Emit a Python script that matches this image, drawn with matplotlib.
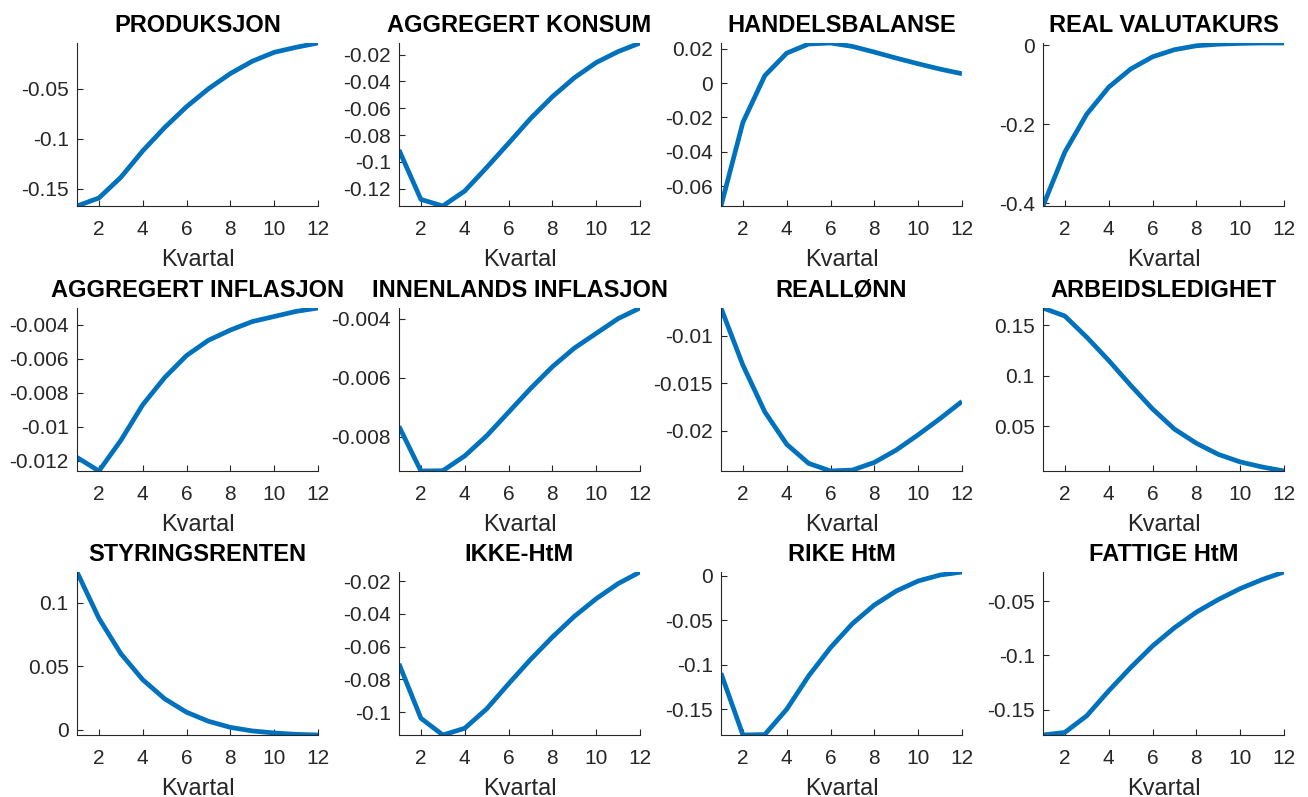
import matplotlib
matplotlib.use("Agg")
import matplotlib.pyplot as plt
from matplotlib.ticker import FuncFormatter

plt.rcParams["font.family"] = ["Liberation Sans", "DejaVu Sans"]
plt.rcParams["axes.unicode_minus"] = False

# ── data: impulse responses, quarters 1..12 ──
kvartal = list(range(1, 13))

titles = ["PRODUKSJON", "AGGREGERT KONSUM", "HANDELSBALANSE", "REAL VALUTAKURS",
          "AGGREGERT INFLASJON", "INNENLANDS INFLASJON", "REALLØNN", "ARBEIDSLEDIGHET",
          "STYRINGSRENTEN", "IKKE-HtM", "RIKE HtM", "FATTIGE HtM"]

produksjon = [-0.167, -0.159, -0.1384, -0.112, -0.0887, -0.0679, -0.050, -0.0348, -0.0225, -0.0136, -0.0086, -0.0043]
konsum = [-0.0911, -0.128, -0.1329, -0.1217, -0.1042, -0.0861, -0.0677, -0.0514, -0.0373, -0.0259, -0.0177, -0.0113]
handelsbalanse = [-0.0716, -0.0229, 0.0043, 0.0174, 0.0227, 0.0233, 0.0213, 0.018, 0.0145, 0.0112, 0.0081, 0.0054]
valutakurs = [-0.407, -0.27, -0.174, -0.106, -0.060, -0.029, -0.011, -0.001, 0.003, 0.005, 0.006, 0.006]
agg_infl = [-0.0118, -0.0126, -0.0108, -0.0087, -0.0071, -0.0058, -0.0049, -0.0043, -0.0038, -0.0035, -0.0032, -0.0030]
innl_infl = [-0.00765, -0.00916, -0.00915, -0.00865, -0.00797, -0.00717, -0.00637, -0.00563, -0.0050, -0.0045, -0.0040, -0.00364]
realloenn = [-0.0071, -0.0131, -0.0180, -0.0214, -0.0234, -0.0242, -0.0241, -0.0233, -0.0220, -0.0204, -0.0187, -0.0169]
arbeidsledighet = [0.167, 0.159, 0.138, 0.115, 0.0904, 0.067, 0.047, 0.033, 0.022, 0.0145, 0.0095, 0.0055]
styringsrenten = [0.124, 0.0876, 0.0598, 0.0393, 0.0243, 0.0137, 0.0066, 0.0018, -0.001, -0.0026, -0.0037, -0.0042]
ikke_htm = [-0.0705, -0.1037, -0.1139, -0.1098, -0.098, -0.0827, -0.0679, -0.0542, -0.0416, -0.0308, -0.0216, -0.0145]
rike_htm = [-0.1095, -0.179, -0.1785, -0.150, -0.1125, -0.0806, -0.0536, -0.0326, -0.0169, -0.0056, 0.0011, 0.0045]
fattige_htm = [-0.1733, -0.1709, -0.1555, -0.1326, -0.1112, -0.0913, -0.0745, -0.0601, -0.0485, -0.0384, -0.0301, -0.0231]

series = [produksjon, konsum, handelsbalanse, valutakurs,
          agg_infl, innl_infl, realloenn, arbeidsledighet,
          styringsrenten, ikke_htm, rike_htm, fattige_htm]

yticks = [[-0.15, -0.1, -0.05],
          [-0.12, -0.1, -0.08, -0.06, -0.04, -0.02],
          [-0.06, -0.04, -0.02, 0, 0.02],
          [-0.4, -0.2, 0],
          [-0.012, -0.01, -0.008, -0.006, -0.004],
          [-0.008, -0.006, -0.004],
          [-0.02, -0.015, -0.01],
          [0.05, 0.1, 0.15],
          [0, 0.05, 0.1],
          [-0.1, -0.08, -0.06, -0.04, -0.02],
          [-0.15, -0.1, -0.05, 0],
          [-0.15, -0.1, -0.05]]
xticks = [2, 4, 6, 8, 10, 12]

# ── layout (pixel geometry of the MATLAB-style 3x4 grid) ──
W, H = 1308, 797
LEFTS = [77, 399, 721, 1043]
TOPS = [43, 308, 572]
AW, AH = 241, 163
LINE = "#0072BD"
AX_C = "#262626"

fig = plt.figure(figsize=(W / 100, H / 100), dpi=100)
fmt = FuncFormatter(lambda v, p: f"{v:g}")

for i, (title, y) in enumerate(zip(titles, series)):
    r, c = divmod(i, 4)
    ax = fig.add_axes([LEFTS[c] / W, 1 - (TOPS[r] + AH) / H, AW / W, AH / H])
    ax.plot(kvartal, y, color=LINE, lw=3.4, solid_capstyle="butt")
    ax.set_xlim(1, 12)
    ax.set_ylim(min(y), max(y))
    ax.set_xticks(xticks)
    ax.set_yticks(yticks[i])
    ax.yaxis.set_major_formatter(fmt)
    for s in ("top", "right"):
        ax.spines[s].set_visible(False)
    for s in ("left", "bottom"):
        ax.spines[s].set_color(AX_C)
        ax.spines[s].set_linewidth(0.8)
    ax.tick_params(direction="in", length=4, width=0.8, color=AX_C,
                   labelcolor=AX_C, labelsize=15)
    ax.tick_params(axis="x", pad=10)
    ax.tick_params(axis="y", pad=6)
    ax.set_xlabel("Kvartal", fontsize=17, color=AX_C, labelpad=7)
    ax.set_title(title, fontsize=17, fontweight="bold", pad=8)

fig.savefig("out.png", dpi=100)
